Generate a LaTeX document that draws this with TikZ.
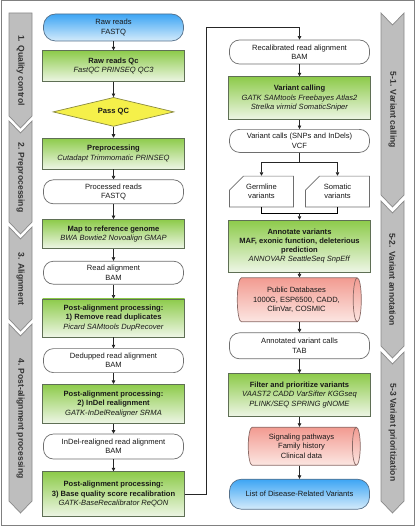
\documentclass[tikz,border=0pt]{standalone}
\usepackage{fontspec}
\setmainfont{Liberation Sans}
\usepackage{tikz}
\usetikzlibrary {arrows.meta,
                 calc,
                 positioning,
                 shapes.geometric,
                 shapes.misc}
\definecolor{grtop}{HTML}{8DCB4A}
\definecolor{grbot}{HTML}{EEF6E6}
\definecolor{grline}{HTML}{5F6F55}
\definecolor{bltop}{HTML}{3DA5F4}
\definecolor{blbot}{HTML}{D4EBFB}
\definecolor{blline}{HTML}{55708A}
\definecolor{pktop}{HTML}{F29B91}
\definecolor{pkbot}{HTML}{FCE6E2}
\definecolor{pkline}{HTML}{8A6A66}
\definecolor{ylfill}{HTML}{F5F04A}
\definecolor{ylline}{HTML}{8A8A40}
\definecolor{wtline}{HTML}{6E6E6E}
\definecolor{stfill}{HTML}{BEBEBE}
\definecolor{stline}{HTML}{8A8A8A}
\tikzset{
        base/.style={draw, align=center, inner sep=1bp, line width=0.7bp,
                     font=\fontsize{7.6}{9.3}\selectfont, text=black!90},
        proc/.style={base, rectangle, draw=grline, top color=grtop,
                     bottom color=grbot, minimum width=142bp},
        term/.style={base, rectangle, rounded corners=12bp, draw=blline,
                     top color=bltop, bottom color=blbot, minimum width=140bp},
        datafile/.style={base, rectangle, rounded corners=10bp, draw=wtline,
                     fill=white, minimum width=140bp},
        test/.style={base, diamond, draw=ylline, fill=ylfill, aspect=4,
                     inner sep=0pt, minimum width=121bp, minimum height=29bp},
        dbase/.style={base, cylinder, draw=pkline, top color=pktop,
                     bottom color=pkbot, shape aspect=0.3},
        card/.style={base, chamfered rectangle,
                     chamfered rectangle corners=north west,
                     chamfered rectangle xsep=7bp, chamfered rectangle ysep=7bp,
                     draw=wtline, fill=white, minimum width=64bp,
                     minimum height=29bp},
        stage/.style={draw=stline, fill=stfill, line width=0.7bp},
        stagelabel/.style={rotate=-90, text=black!80,
                     font=\bfseries\fontsize{8.6}{10}\selectfont},
        frame/.style={draw=black!50, line width=1bp},
        myarrow/.style={-{Triangle[length=3.5bp,width=3.5bp]},
                     line width=0.6bp, draw=black!85},
 }

\begin{document}
\begin{tikzpicture}[x=1bp, y=1bp]
    \useasboundingbox (0,0) rectangle (417,-528);
    \draw[frame] (1,-1) rectangle (414,-525);

    % stage bands
    \foreach \xa/\t/\nd/\b/\lbl in {9/13/0/128/{1. Quality control},
            9/121/12/234/{2. Preprocessing},
            9/227/12/331/{3. Alignment},
            9/324/12/513/{4. Post-alignment processing},
            381/13/12/207/{5-1. Variant calling},
            381/201/12/358/{5-2. Variant annotation},
            381/352/12/513/{5-3 Variant prioritization}} {
        \draw[stage] (\xa,-\t) -- ({\xa+11.5},{-\t-\nd}) -- ({\xa+23},-\t)
            -- ({\xa+23},{-\b+12}) -- ({\xa+11.5},-\b) -- (\xa,{-\b+12}) -- cycle;
        \node[stagelabel] at ({\xa+11.5},{-(\t+\b)/2}) {\lbl};
    }

    % left column
    \node[term, minimum height=27bp] (raw) at (113.5,-27.5) {Raw reads\\FASTQ};
    \node[proc, minimum height=31bp, below=9bp of raw] (rawqc)
        {\textbf{Raw reads Qc}\\\textit{FastQC PRINSEQ QC3}};
    \node[test, below=15bp of rawqc] (passqc) {\textbf{Pass QC}};
    \node[proc, minimum height=31bp, below=11bp of passqc] (preproc)
        {\textbf{Preprocessing}\\\textit{Cutadapt Trimmomatic PRINSEQ}};
    \node[datafile, minimum height=24bp, below=10bp of preproc] (procreads)
        {Processed reads\\FASTQ};
    \node[proc, minimum height=29bp, below=15bp of procreads] (mapref)
        {\textbf{Map to reference genome}\\\textit{BWA Bowtie2 Novoalign GMAP}};
    \node[datafile, minimum height=23bp, below=12bp of mapref] (readaln)
        {Read alignment\\BAM};
    \node[proc, minimum height=38bp, below=14bp of readaln] (dedupproc)
        {\textbf{Post-alignment processing:}\\\textbf{1) Remove read duplicates}\\
         \textit{Picard SAMtools DupRecover}};
    \node[datafile, minimum height=24bp, below=11bp of dedupproc] (dedup)
        {Dedupped read alignment\\BAM};
    \node[proc, minimum height=39bp, below=11bp of dedup] (realnproc)
        {\textbf{Post-alignment processing:}\\\textbf{2) InDel realignment}\\
         \textit{GATK-InDelRealigner SRMA}};
    \node[datafile, minimum height=25bp, below=10bp of realnproc] (realn)
        {InDel-realigned read alignment\\BAM};
    \node[proc, minimum height=45bp, below=12bp of realn] (recalproc)
        {\textbf{Post-alignment processing:}\\\textbf{3) Base quality score recalibration}\\
         \textit{GATK-BaseRecalibrator ReQON}};

    % right column
    \node[datafile, minimum height=24bp] (recal) at (299.5,-52)
        {Recalibrated read alignment\\BAM};
    \node[proc, minimum height=43bp, below=12bp of recal] (varcall)
        {\textbf{Variant calling}\\\textit{GATK SAMtools Freebayes Atlas2}\\
         \textit{Strelka virmid SomaticSniper}};
    \node[datafile, minimum height=23bp, below=9bp of varcall] (vcf)
        {Variant calls (SNPs and InDels)\\VCF};
    \node[card, below=23bp of vcf, xshift=-38bp] (germ) {Germline\\variants};
    \node[card, below=23bp of vcf, xshift=38bp] (soma) {Somatic\\variants};
    \node[proc, minimum height=52bp, below=67bp of vcf] (annot)
        {\textbf{Annotate variants}\\\textbf{MAF, exonic function, deleterious}\\
         \textbf{prediction}\\\textit{ANNOVAR SeattleSeq SnpEff}};
    \node[dbase, minimum height=124bp, minimum width=44bp, below=5bp of annot,
          xshift=-3bp] (pubdb)
        {Public Databases\\1000G, ESP6500, CADD,\\ClinVar, COSMIC};
    \node[datafile, minimum height=26bp, below=60bp of annot] (annotated)
        {Annotated variant calls\\TAB};
    \node[proc, minimum height=43bp, below=14bp of annotated] (filter)
        {\textbf{Filter and prioritize variants}\\\textit{VAAST2 CADD VarSifter KGGseq}\\
         \textit{PLINK/SEQ SPRING gNOME}};
    \node[dbase, minimum height=112bp, minimum width=38bp, below=10bp of filter,
          xshift=2bp] (signal)
        {Signaling pathways\\Family history\\Clinical data};
    \node[term, minimum height=30bp, below=62bp of filter] (final)
        {List of Disease-Related Variants};

    % connectors
    \draw[myarrow] (raw) -- (rawqc);
    \draw[myarrow] (rawqc) -- (passqc);
    \draw[myarrow] (passqc) -- (preproc);
    \draw[myarrow] (preproc) -- (procreads);
    \draw[myarrow] (procreads) -- (mapref);
    \draw[myarrow] (mapref) -- (readaln);
    \draw[myarrow] (readaln) -- (dedupproc);
    \draw[myarrow] (dedupproc) -- (dedup);
    \draw[myarrow] (dedup) -- (realnproc);
    \draw[myarrow] (realnproc) -- (realn);
    \draw[myarrow] (realn) -- (recalproc);
    \coordinate (bend) at (206,-27);
    \draw[myarrow] (recalproc.east) -| (bend) -| (recal.north);
    \draw[myarrow] (recal) -- (varcall);
    \draw[myarrow] (varcall) -- (vcf);
    \draw[myarrow] (vcf.south) -- ++(0,-10) -| (germ.north);
    \draw[myarrow] (vcf.south) -- ++(0,-10) -| (soma.north);
    \draw (germ.south) -- ++(0,-6) coordinate (join) -| (soma.south);
    \draw[myarrow] (join -| annot.north) -- (annot.north);
    \draw[myarrow] (annot.south) -- (annot.south |- pubdb.north);
    \draw[myarrow] (annotated.north |- pubdb.south) -- (annotated.north);
    \draw[myarrow] (annotated) -- (filter);
    \draw[myarrow] (filter.south) -- (filter.south |- signal.north);
    \draw[myarrow] (final.north |- signal.south) -- (final.north);
\end{tikzpicture}
\end{document}
